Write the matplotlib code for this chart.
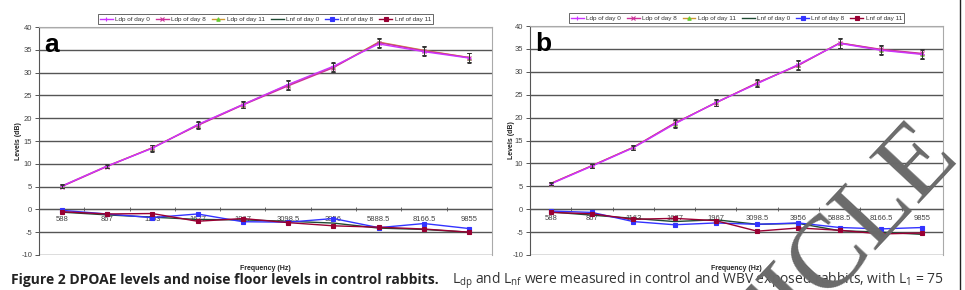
import matplotlib
matplotlib.use("Agg")
import matplotlib.pyplot as plt
from matplotlib.lines import Line2D

plt.rcParams['font.family'] = ['Liberation Sans', 'DejaVu Sans']
plt.rcParams['mathtext.default'] = 'regular'

freqs = ['588', '867', '1163', '1677', '1967', '3098.5', '3956', '5888.5', '8166.5', '9855']

# panel a
ldp0_a = [5.1, 9.5, 13.4, 18.6, 23.0, 27.4, 31.4, 36.3, 34.6, 33.2]
ldp8_a = [5.0, 9.4, 13.5, 18.4, 22.9, 27.1, 31.1, 36.6, 34.8, 33.3]
ldp11_a = [5.1, 9.5, 13.5, 18.5, 23.0, 27.3, 31.2, 36.7, 34.9, 33.3]
err_a = [0.4, 0.4, 0.7, 0.7, 0.7, 1.0, 1.0, 1.0, 1.0, 1.0]
lnf0_a = [-0.6, -1.2, -1.7, -2.2, -2.3, -2.6, -3.0, -4.1, -4.4, -5.0]
lnf8_a = [-0.2, -1.0, -1.8, -1.0, -2.7, -2.8, -2.0, -4.0, -3.1, -4.2]
lnf11_a = [-0.5, -1.0, -0.9, -2.6, -2.0, -2.9, -3.6, -3.9, -4.3, -5.0]

# panel b
ldp0_b = [5.5, 9.4, 13.4, 18.6, 23.3, 27.4, 31.6, 36.2, 34.7, 33.8]
ldp8_b = [5.6, 9.5, 13.5, 18.8, 23.2, 27.6, 31.4, 36.3, 34.9, 34.0]
ldp11_b = [5.6, 9.5, 13.5, 18.7, 23.3, 27.5, 31.5, 36.3, 34.8, 33.9]
err_b = [0.3, 0.4, 0.5, 0.8, 0.7, 0.8, 1.0, 1.0, 1.0, 1.0]
lnf0_b = [-0.6, -1.3, -2.0, -2.7, -2.3, -3.3, -3.1, -4.7, -5.0, -5.5]
lnf8_b = [-0.4, -0.7, -2.7, -3.4, -3.0, -3.3, -3.0, -4.0, -4.3, -4.0]
lnf11_b = [-0.7, -1.0, -2.2, -2.0, -2.5, -4.8, -4.1, -4.6, -5.4, -5.2]

labels = ['Ldp of day 0', 'Ldp of day 8', 'Ldp of day 11',
          'Lnf of day 0', 'Lnf of day 8', 'Lnf of day 11']
colors = ['#cc33ff', '#cc3399', '#cc9933', '#1f4a33', '#3333ff', '#990033']
markers = ['+', 'x', '^', '', 's', 's']
mfcs = ['#cc33ff', '#cc3399', '#66cc33', 'none', '#3333ff', '#990033']
zorders = [3.6, 3.5, 3.1, 3.2, 3.3, 3.4]

fig = plt.figure(figsize=(9.65, 2.9), dpi=100)


def panel(rect, letter, series, err):
    ax = fig.add_axes(rect)
    x = list(range(len(freqs)))
    for i, (y, lab) in enumerate(zip(series, labels)):
        ax.plot(x, y, color=colors[i], lw=1.0, marker=markers[i] or None,
                ms=2.5, mfc=mfcs[i], mec=mfcs[i] if mfcs[i] != 'none' else colors[i],
                mew=0.8, label=lab, zorder=zorders[i])
        if i < 3:
            ax.errorbar(x, y, yerr=err, fmt='none', ecolor='#333333',
                        elinewidth=0.7, capsize=1.5, capthick=0.7, zorder=3.8)
    ax.set_xlim(-0.5, len(freqs) - 0.5)
    ax.set_ylim(-10, 40)
    ax.set_yticks(range(-10, 41, 5))
    ax.set_yticklabels([str(v) for v in range(-10, 41, 5)])
    ax.yaxis.grid(True, color='#555555', lw=1.0)
    ax.set_axisbelow(True)
    ax.tick_params(axis='y', length=3, width=0.7, color='#555555',
                   labelsize=5.5, labelcolor='#444444', pad=2)
    ax.spines['bottom'].set_position(('data', 0))
    ax.spines['bottom'].set_color('#555555')
    ax.spines['left'].set_color('#555555')
    for s in ('top', 'right'):
        ax.spines[s].set_color('#aaaaaa')
        ax.spines[s].set_linewidth(0.8)
    ax.set_xticks(x)
    ax.set_xticklabels(freqs)
    ax.set_xticks([v + 0.5 for v in x[:-1]], minor=True)
    ax.tick_params(axis='x', which='major', length=0, labelsize=5.5,
                   labelcolor='#444444', pad=4.5)
    ax.tick_params(axis='x', which='minor', length=2.5, width=0.6,
                   color='#555555', direction='inout')
    ax.text(0.012, 0.975, letter, transform=ax.transAxes, fontsize=19,
            fontweight='bold', va='top', ha='left')
    ax.text(-0.045, 0.5, 'Levels (dB)', transform=ax.transAxes, rotation=90,
            fontsize=5, fontweight='bold', va='center', ha='center', color='#222222')
    ax.text(0.5, -0.058, 'Frequency (Hz)', transform=ax.transAxes,
            fontsize=5, fontweight='bold', va='center', ha='center', color='#222222')
    handles = [Line2D([], [], color=colors[i], lw=1.0, marker=markers[i] or None,
                      ms=2.5, mfc=mfcs[i],
                      mec=mfcs[i] if mfcs[i] != 'none' else colors[i], mew=0.8)
               for i in range(6)]
    leg = ax.legend(handles, labels, ncol=6, loc='lower center',
                    bbox_to_anchor=(0.5, 1.01), fontsize=4.6, frameon=True,
                    fancybox=False, edgecolor='#222222', handlelength=2.0,
                    handletextpad=0.4, columnspacing=0.9, borderpad=0.35,
                    borderaxespad=0.1)
    leg.get_frame().set_linewidth(0.6)
    for t in leg.get_texts():
        t.set_color('#333333')
    return ax


panel([0.0404, 0.1207, 0.4694, 0.786], 'a',
      [ldp0_a, ldp8_a, ldp11_a, lnf0_a, lnf8_a, lnf11_a], err_a)
panel([0.5492, 0.1207, 0.428, 0.7896], 'b',
      [ldp0_b, ldp8_b, ldp11_b, lnf0_b, lnf8_b, lnf11_b], err_b)

# caption
fig.text(0.011, 0.022, 'Figure 2 DPOAE levels and noise floor levels in control rabbits.',
         fontsize=10, fontweight='bold', family=['Open Sans', 'DejaVu Sans'],
         color='#222222', va='baseline', ha='left')
fig.text(0.468, 0.022, '$L_{dp}$ and $L_{nf}$ were measured in control and WBV exposed rabbits, with $L_{1}$ = 75',
         fontsize=10, family=['Open Sans', 'DejaVu Sans'],
         color='#333333', va='baseline', ha='left')

# frame line at right edge
fig.add_artist(Line2D([0.995, 0.995], [0.0, 1.0], transform=fig.transFigure,
                      color='#222222', lw=1.0))

# watermark
fig.text(0.977, 0.510, 'RETRACTED ARTICLE', fontsize=75, family=['Liberation Serif'],
         color='#6a6a6a', rotation=47, rotation_mode='anchor',
         ha='right', va='center', zorder=10)

fig.savefig('out.png', dpi=100)
